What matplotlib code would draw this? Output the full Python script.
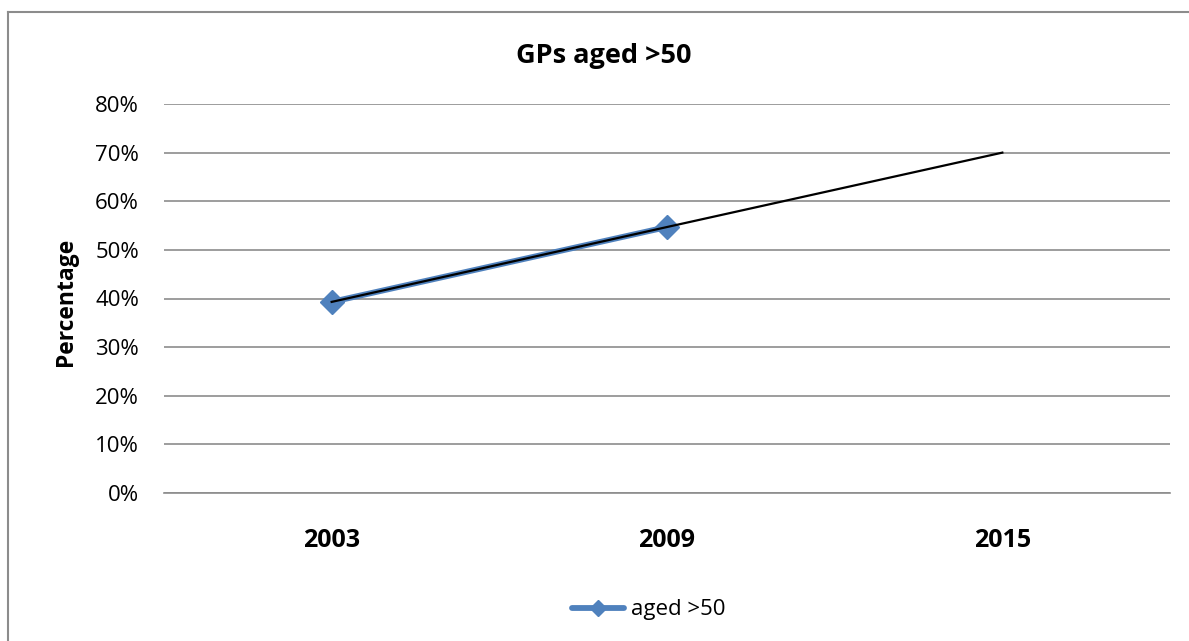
import matplotlib
matplotlib.use("Agg")
import matplotlib.pyplot as plt
from matplotlib.lines import Line2D
from matplotlib.ticker import FuncFormatter

years = ["2003", "2009", "2015"]
aged_over_50 = [39.3, 54.7]          # percent, observed series
trend = [39.3, 54.7, 70.0]           # linear trend line (forecast to 2015)
y_ticks = [0, 10, 20, 30, 40, 50, 60, 70, 80]

plt.rcParams['font.family'] = ['Open Sans', 'DejaVu Sans']

W, H = 1189, 641
fig = plt.figure(figsize=(W / 100, H / 100), dpi=100)
ax = fig.add_axes([164 / W, 1 - 493 / H, (1170 - 164) / W, (493 - 104) / H])

x_idx = list(range(len(years)))
ax.plot(x_idx[:len(aged_over_50)], aged_over_50, color='#4F81BD', lw=4.2,
        marker='D', markersize=12, markerfacecolor='#4F81BD',
        markeredgecolor='#4F81BD', zorder=3, solid_capstyle='round')
ax.plot(x_idx, trend, color='black', lw=1.6, zorder=4)

ax.set_xlim(-0.5, len(years) - 0.5)
ax.set_ylim(0, 80)
ax.set_yticks(y_ticks)
ax.yaxis.set_major_formatter(FuncFormatter(lambda v, p: f"{int(v)}%"))
ax.set_xticks(x_idx)
ax.set_xticklabels(years, fontweight='bold')
ax.grid(axis='y', color='#8C8C8C', lw=1.2)
ax.set_axisbelow(True)
for s in ['top', 'right', 'left']:
    ax.spines[s].set_visible(False)
ax.spines['bottom'].set_color('#8C8C8C')
ax.spines['bottom'].set_linewidth(1.2)
ax.tick_params(axis='y', length=0, pad=18, labelsize=16)
ax.tick_params(axis='x', length=0, pad=25, labelsize=18)

fig.text(66 / W, 1 - 302 / H, "Percentage", rotation=90, ha='center', va='center',
         fontsize=16.5, fontweight='bold')

fig.text(604 / W, 1 - 63 / H, "GPs aged >50", ha='center', va='baseline',
         fontsize=19.5, fontweight='bold')

handle = Line2D([], [], color='#4F81BD', lw=4.2, marker='D', markersize=8,
                markerfacecolor='#4F81BD', markeredgecolor='#4F81BD',
                solid_capstyle='round')
fig.legend([handle], ["aged >50"], loc='center left', bbox_to_anchor=(572 / W, 1 - 610 / H),
           frameon=False, fontsize=16, handlelength=2.35, handletextpad=0.3,
           borderpad=0, borderaxespad=0)

# outer chart border (top and left visible)
fig.add_artist(Line2D([8 / W, 8 / W], [0, 1 - 12 / H], transform=fig.transFigure,
                      color='#8C8C8C', lw=1.5))
fig.add_artist(Line2D([8 / W, 1], [1 - 12 / H, 1 - 12 / H], transform=fig.transFigure,
                      color='#8C8C8C', lw=1.5))

fig.savefig("out.png", dpi=100)
